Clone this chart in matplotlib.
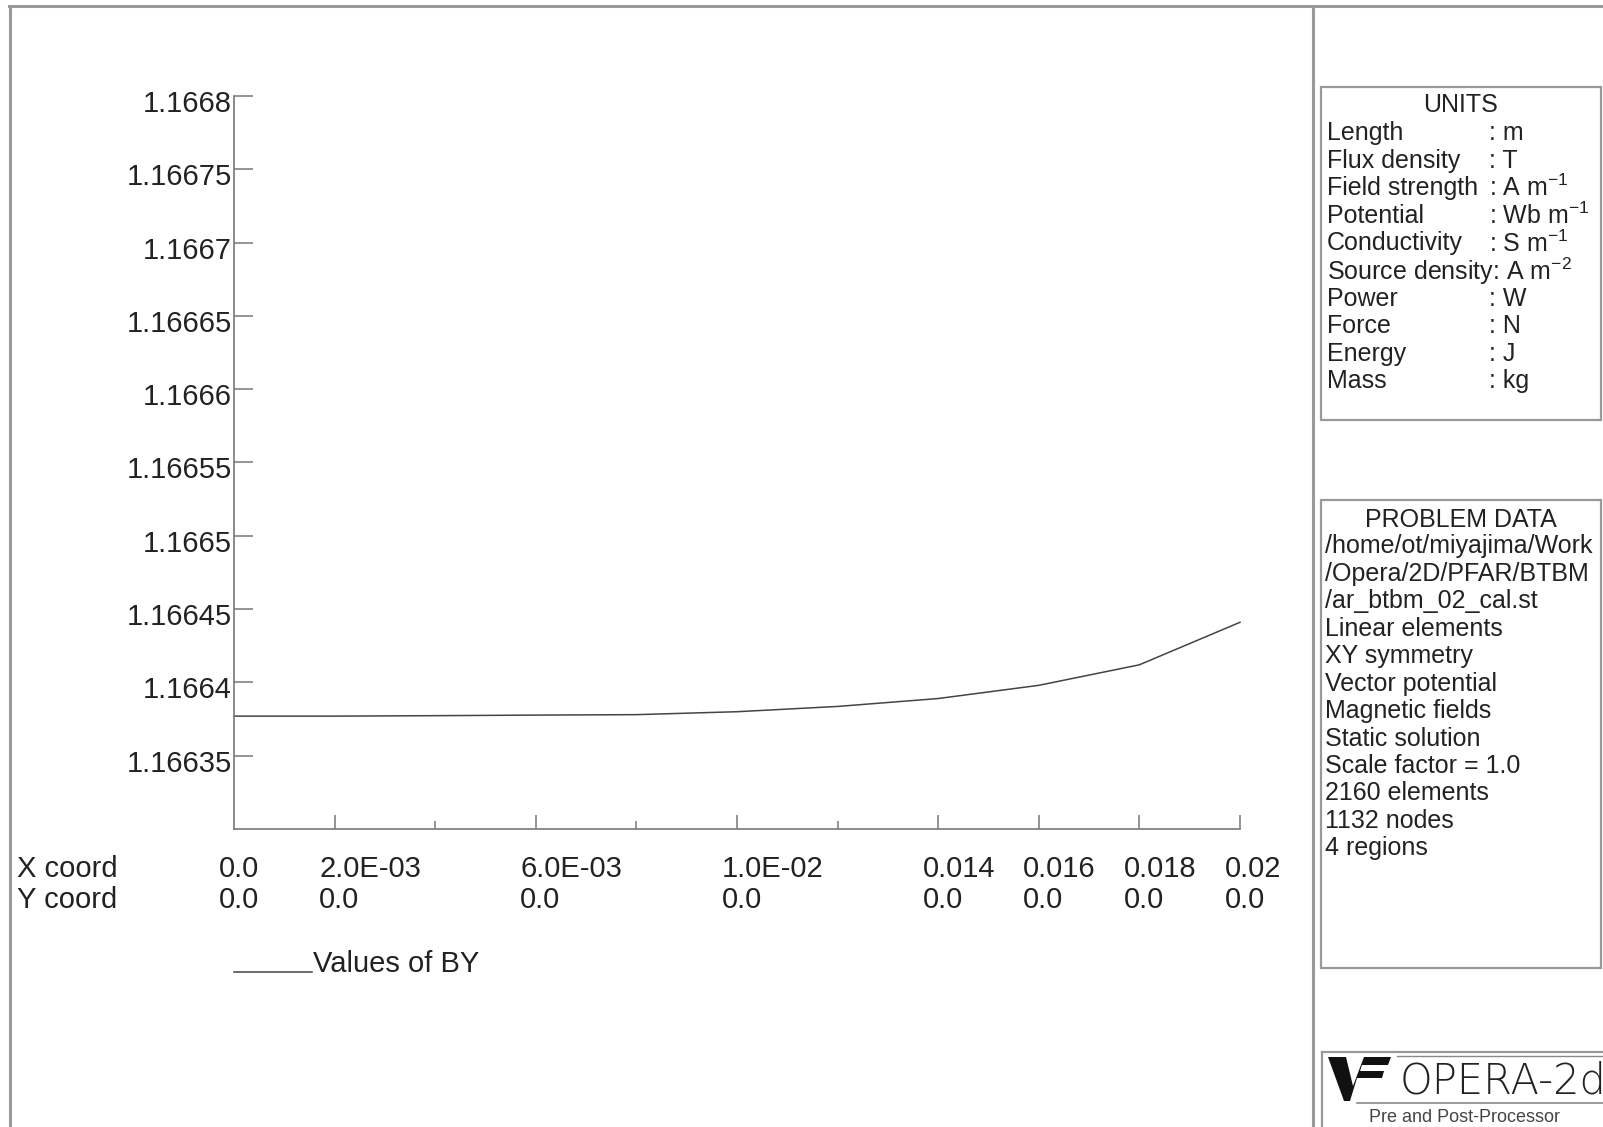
import matplotlib
matplotlib.use("Agg")
import matplotlib.pyplot as plt
from matplotlib.lines import Line2D
from matplotlib.patches import Rectangle, Polygon
from matplotlib.transforms import blended_transform_factory, ScaledTranslation

plt.rcParams["font.family"] = ["Liberation Sans", "DejaVu Sans"]
plt.rcParams["mathtext.fontset"] = "custom"
plt.rcParams["mathtext.rm"] = "Liberation Sans"
plt.rcParams["mathtext.default"] = "regular"

# BY sampled along the line y = 0
x_coord = [0.0, 0.002, 0.004, 0.006, 0.008, 0.010, 0.012, 0.014, 0.016, 0.018, 0.020]
by_values = [1.166377, 1.166377, 1.1663773, 1.1663777, 1.166378, 1.16638,
             1.1663836, 1.166389, 1.166398, 1.166412, 1.166441]

y_ticks = [1.16635, 1.1664, 1.16645, 1.1665, 1.16655, 1.1666, 1.16665, 1.1667, 1.16675, 1.1668]
y_tick_labels = ["1.16635", "1.1664", "1.16645", "1.1665", "1.16655", "1.1666",
                 "1.16665", "1.1667", "1.16675", "1.1668"]

x_major = [0.002, 0.006, 0.010, 0.014, 0.016, 0.018, 0.020]
x_minor = [0.004, 0.008, 0.012]
x_label_pos = [0.0, 0.002, 0.006, 0.010, 0.014, 0.016, 0.018, 0.020]
x_labels = ["0.0", "2.0E-03", "6.0E-03", "1.0E-02", "0.014", "0.016", "0.018", "0.02"]
y_labels = ["0.0"] * len(x_label_pos)

units = [("Length", ": m"), ("Flux density", ": T"), ("Field strength", ": A m$^{-1}$"),
         ("Potential", ": Wb m$^{-1}$"), ("Conductivity", ": S m$^{-1}$"),
         ("Source density: A m$^{-2}$", ""), ("Power", ": W"), ("Force", ": N"),
         ("Energy", ": J"), ("Mass", ": kg")]
problem_data = ["/home/ot/miyajima/Work", "/Opera/2D/PFAR/BTBM", "/ar_btbm_02_cal.st",
                "Linear elements", "XY symmetry", "Vector potential", "Magnetic fields",
                "Static solution", "Scale factor = 1.0", "2160 elements", "1132 nodes",
                "4 regions"]

W, H = 1603, 1127
TXT = "#222222"
FRAME = "#999999"
AXC = "#777777"
SIDE_FS = 18


def fx(x):
    return x / W


def fy(y):
    return 1 - y / H


fig = plt.figure(figsize=(W / 100, H / 100), dpi=100)

# page frame and side panel separator
for xs, ys in [((9, W), (6, 6)), ((10, 10), (6, H)), ((1313, 1313), (6, H))]:
    fig.add_artist(Line2D([fx(v) for v in xs], [fy(v) for v in ys], color=FRAME, lw=2.2))

# main graph
ax = fig.add_axes([fx(234), fy(829), (1240 - 234) / W, (829 - 96) / H])
ax.plot(x_coord, by_values, color="#444444", lw=1.1, clip_on=False)
ax.set_xlim(0, 0.02)
ax.set_ylim(1.1663, 1.1668)
for s in ["top", "right"]:
    ax.spines[s].set_visible(False)
for s in ["left", "bottom"]:
    ax.spines[s].set_color(AXC)
    ax.spines[s].set_linewidth(1.2)

ax.set_yticks(y_ticks)
ax.set_yticklabels([])
ax.tick_params(axis="y", direction="in", length=13.5, width=1.1, color=AXC)
ax.set_xticks(x_major)
ax.set_xticks(x_minor, minor=True)
ax.set_xticklabels([])
ax.tick_params(axis="x", which="major", direction="in", length=10, width=1.1, color=AXC)
ax.tick_params(axis="x", which="minor", direction="in", length=5.8, width=1.1, color=AXC)

ytr = blended_transform_factory(ax.transAxes, ax.transData) + \
    ScaledTranslation(-0.02, -0.05, fig.dpi_scale_trans)
for v, lab in zip(y_ticks, y_tick_labels):
    ax.text(0, v, lab, transform=ytr, ha="right", va="center_baseline",
            fontsize=21, color=TXT)

xtr = blended_transform_factory(ax.transData, fig.transFigure) + \
    ScaledTranslation(-0.155, 0, fig.dpi_scale_trans)
for v, xl, yl in zip(x_label_pos, x_labels, y_labels):
    ax.text(v, fy(877), xl, transform=xtr, ha="left", va="baseline", fontsize=21, color=TXT)
    ax.text(v, fy(908), yl, transform=xtr, ha="left", va="baseline", fontsize=21, color=TXT)
fig.text(fx(17), fy(877), "X coord", ha="left", va="baseline", fontsize=21, color=TXT)
fig.text(fx(17), fy(908), "Y coord", ha="left", va="baseline", fontsize=21, color=TXT)

# curve key
fig.add_artist(Line2D([fx(234), fx(312)], [fy(972), fy(972)], color="#444444", lw=1.1))
fig.text(fx(313), fy(972), "Values of BY", ha="left", va="baseline", fontsize=21, color=TXT)

# units box
fig.add_artist(Rectangle((fx(1321), fy(420)), (1601 - 1321) / W, (420 - 87) / H,
                         fill=False, ec=FRAME, lw=1.6))
fig.text(fx(1461), fy(105), "UNITS", ha="center", va="center", fontsize=SIDE_FS, color=TXT)
for i, (name, unit) in enumerate(units):
    y = fy(133 + i * 27.6)
    fig.text(fx(1327), y, name, ha="left", va="center", fontsize=SIDE_FS, color=TXT)
    if unit:
        fig.text(fx(1489), y, unit, ha="left", va="center", fontsize=SIDE_FS, color=TXT)

# problem data box
fig.add_artist(Rectangle((fx(1321), fy(968)), (1601 - 1321) / W, (968 - 500) / H,
                         fill=False, ec=FRAME, lw=1.6))
fig.text(fx(1461), fy(520), "PROBLEM DATA", ha="center", va="center", fontsize=SIDE_FS, color=TXT)
for i, line in enumerate(problem_data):
    fig.text(fx(1325), fy(546 + i * 27.5), line, ha="left", va="center",
             fontsize=SIDE_FS, color=TXT)

# program logo
fig.add_artist(Line2D([fx(1322), fx(W)], [fy(1052), fy(1052)], color=FRAME, lw=1.6))
fig.add_artist(Line2D([fx(1322), fx(1322)], [fy(1052), fy(H)], color=FRAME, lw=1.6))
fig.add_artist(Line2D([fx(1397), fx(W)], [fy(1056), fy(1056)], color="#888888", lw=1.0))
fig.add_artist(Line2D([fx(1357), fx(W)], [fy(1103), fy(1103)], color="#888888", lw=1.2))
logo = [(1328, 1057), (1346, 1057), (1353, 1086), (1364, 1057), (1391, 1057),
        (1388, 1065), (1362, 1065), (1360, 1071), (1384, 1071), (1382, 1078),
        (1357, 1078), (1350, 1101), (1344, 1101)]
fig.add_artist(Polygon([(fx(a), fy(b)) for a, b in logo], closed=True, fc="#111111", ec="none"))
fig.text(fx(1400), fy(1094), "OPERA-2d", ha="left", va="baseline", fontsize=30,
         family="DejaVu Sans", fontweight=200, color="#222222")
fig.text(fx(1369), fy(1117), "Pre and Post-Processor", ha="left", va="center",
         fontsize=13, color="#444444")

fig.savefig("out.png", dpi=100)
